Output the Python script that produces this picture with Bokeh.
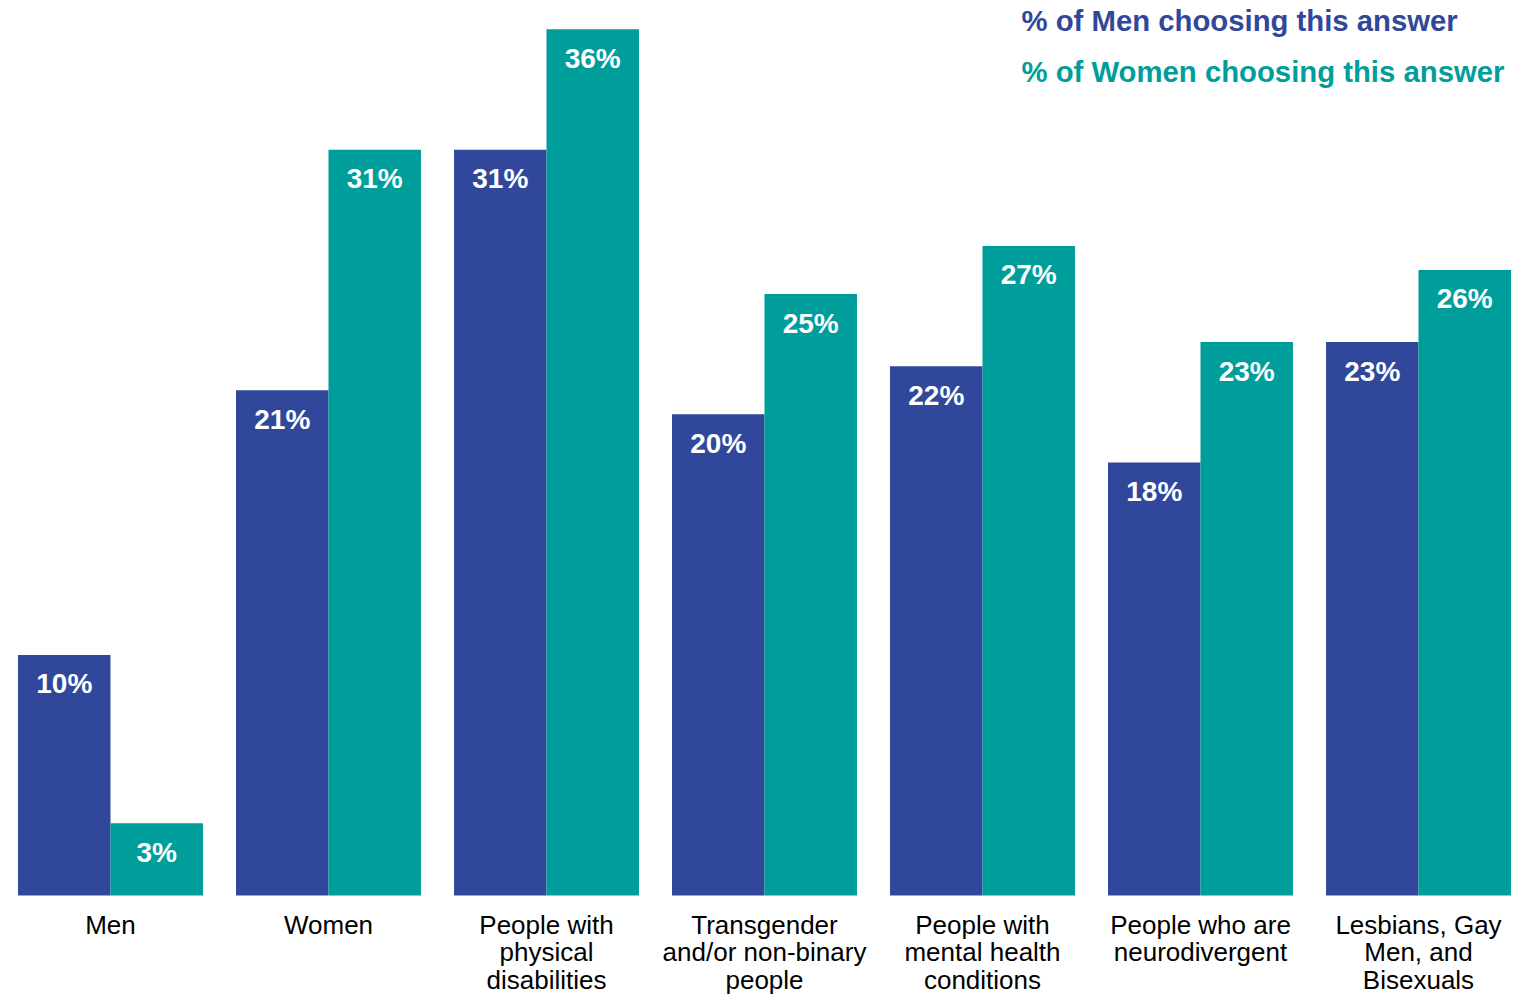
from bokeh.plotting import figure
from bokeh.models import ColumnDataSource, Range1d, Label
from bokeh.core.properties import value
from bokeh.embed import file_html
from bokeh.resources import INLINE

categories = ["Men", "Women", "People with\nphysical\ndisabilities",
              "Transgender\nand/or non-binary\npeople",
              "People with\nmental health\nconditions",
              "People who are\nneurodivergent",
              "Lesbians, Gay\nMen, and\nBisexuals"]
men_pct = [10, 21, 31, 20, 22, 18, 23]
women_pct = [3, 31, 36, 25, 27, 23, 26]
legend_labels = ["% of Men choosing this answer", "% of Women choosing this answer"]

BLUE = "#31479B"
TEAL = "#009E9B"
FONT = "Liberation Sans"

W, H = 1514, 994
idx = list(range(len(categories)))
off = 0.2121
bw = 0.4243

src_m = ColumnDataSource(dict(x=[i - off for i in idx], top=men_pct,
                              lab=[f"{v}%" for v in men_pct]))
src_w = ColumnDataSource(dict(x=[i + off for i in idx], top=women_pct,
                              lab=[f"{v}%" for v in women_pct]))
src_c = ColumnDataSource(dict(x=idx, y=[0] * len(idx), lab=categories))

x0 = -110 / 218
p = figure(width=W, height=H, output_backend="svg", toolbar_location=None,
           x_range=Range1d(x0, x0 + W / 218),
           y_range=Range1d(-99 / 24.06, (H - 99) / 24.06),
           min_border=0, outline_line_color=None)
p.axis.visible = False
p.grid.visible = False
p.background_fill_color = "white"
p.border_fill_color = "white"

p.vbar(x="x", top="top", bottom=0, width=bw, source=src_m, fill_color=BLUE, line_color=None)
p.vbar(x="x", top="top", bottom=0, width=bw, source=src_w, fill_color=TEAL, line_color=None)

for s in (src_m, src_w):
    p.text(x="x", y="top", text="lab", source=s, text_color="white",
           text_font=value(FONT), text_font_style="bold", text_font_size="28px",
           text_align="center", text_baseline="middle", y_offset=29)

p.text(x="x", y="y", text="lab", source=src_c, text_color="black",
       text_font=value(FONT), text_font_size="26px", text_align="center",
       text_baseline="top", text_line_height=0.93, y_offset=14)

for lab, col, ys in zip(legend_labels, [BLUE, TEAL], [H - 20, H - 71]):
    p.add_layout(Label(x=1021, y=ys, x_units="screen", y_units="screen", text=lab,
                       text_color=col, text_font=FONT, text_font_style="bold",
                       text_font_size="29.3px", text_baseline="middle"))

open("out.html", "w").write(file_html(p, INLINE))
